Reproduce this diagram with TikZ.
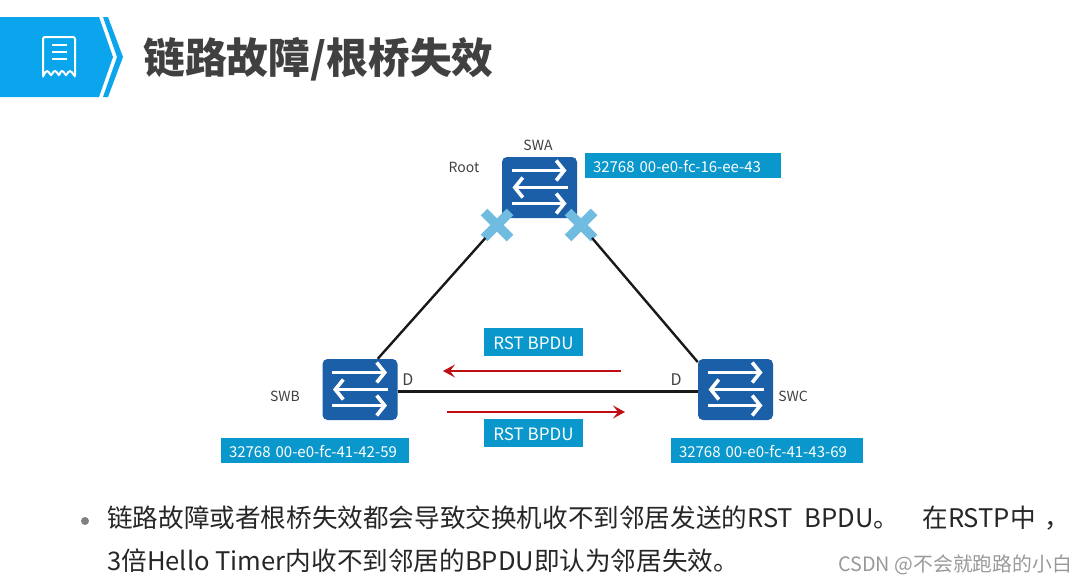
\documentclass[tikz,border=0pt]{standalone}
\usepackage{fontspec}
\setmainfont{Noto Sans CJK SC}
\usetikzlibrary{arrows.meta,shapes.misc}
\definecolor{azulTitulo}{HTML}{0AA5EC}
\definecolor{azulSwitch}{HTML}{1A5FA8}
\definecolor{azulEtiqueta}{HTML}{0A98CC}
\definecolor{azulFalha}{HTML}{70BCE0}
\definecolor{vermelhoSeta}{HTML}{C00D14}
\definecolor{cinzaTexto}{HTML}{404040}
\begin{document}
\begin{tikzpicture}[x=1pt,y=-1pt]
\tikzset{
    >=stealth,
    ligacao/.style={-, line width=2.4pt, black!90},
    setaBpdu/.style={-{Stealth[length=12pt,width=13pt,inset=5pt]}, line width=2.4pt, vermelhoSeta},
    setaSwitch/.style={-{Straight Barb[length=8pt,width=20pt]}, line width=3.6pt, white},
    switchbox/.style={rectangle, rounded corners=5pt, fill=azulSwitch, inner sep=0pt,
                      minimum width=75pt, minimum height=61pt},
    falha/.style={cross out, draw=azulFalha, line width=9.5pt, inner sep=0pt, outer sep=0pt,
                  minimum size=26pt},
    etiqueta/.style={rectangle, fill=azulEtiqueta, text=white, inner xsep=8pt, inner ysep=6pt, align=left,
                     font=\fontsize{15}{15}\selectfont, text height=13pt, text depth=0pt},
    etiquetaBpdu/.style={rectangle, fill=azulEtiqueta, text=white, inner xsep=0pt, inner ysep=6.5pt, minimum width=99pt,
                     font=\fontsize{17}{17}\selectfont, text height=15pt, text depth=0pt},
    rotulo/.style={font=\fontsize{14}{14}\selectfont, text=cinzaTexto, inner sep=0pt},
    corpo/.style={anchor=west, inner sep=0pt, font=\fontsize{25.6}{27}\selectfont, text=black!85}
}
\useasboundingbox (0,0) rectangle (1085,584);

% Faixa do titulo
\fill[azulTitulo] (0,17) -- (99,17) -- (113,57) -- (99,97) -- (0,97) -- cycle;
\fill[azulTitulo] (103,17) -- (108,17) -- (123,57) -- (108,97) -- (103,97) -- (117,57) -- cycle;
\draw[white, line width=2pt, rounded corners=2pt]
    (43,37) -- (75,37) -- (75,77) .. controls (71,70) and (69,70) .. (66,76)
    .. controls (63,70) and (61,70) .. (59,76) .. controls (56,70) and (54,70) .. (51,76)
    .. controls (48,70) and (46,70) .. (43,77) -- cycle;
\foreach \y in {45,52,59}
    \draw[white, line width=2pt] (52,\y) -- (67,\y);
\node[anchor=west, inner sep=0pt, font=\fontsize{41.8}{42}\selectfont\bfseries, text=cinzaTexto] (titulo) at (143,59) {链路故障/根桥失效};

% Switches
\node[switchbox] (swa) at (539.5,187.5) {};
\node[switchbox] (swb) at (360,389.5)   {};
\node[switchbox] (swc) at (735.5,389.5) {};
\foreach \sw in {swa,swb,swc} {
    \draw[setaSwitch] ([shift={(-28,-17)}]\sw.center) -- ([shift={(27,-17)}]\sw.center);
    \draw[setaSwitch] ([shift={(28,0)}]\sw.center) -- ([shift={(-27,0)}]\sw.center);
    \draw[setaSwitch] ([shift={(-28,16)}]\sw.center) -- ([shift={(27,16)}]\sw.center);
}

% Pontos de falha
\node[falha] (xb) at (497,225) {};
\node[falha] (xc) at (581,225) {};

% Ligacoes
\draw[ligacao] (xb) -- (swb.60);
\draw[ligacao] (xc) -- (swc.144);
\draw[ligacao] (swb.-3) -- (swc.183);

% Nomes
\node[rotulo] (lroot) at (464,167) {Root};
\node[rotulo] (lswa)  at (538,145) {SWA};
\node[rotulo] (lswb)  at (285,396) {SWB};
\node[rotulo] (lswc)  at (793,396) {SWC};
\node[rotulo, font=\fontsize{16}{16}\selectfont] (db) at (408,380) {D};
\node[rotulo, font=\fontsize{16}{16}\selectfont] (dc) at (676,380) {D};

% Etiquetas
\node[etiqueta, text width=180pt] (ida) at (683,165.5) {32768 00-e0-fc-16-ee-43};
\node[etiqueta, text width=172pt] (idb) at (315,450.5) {32768 00-e0-fc-41-42-59};
\node[etiqueta, text width=176pt] (idc) at (767,450.5) {32768 00-e0-fc-41-43-69};
\node[etiquetaBpdu] (bpdu1) at (533.5,342)   {RST BPDU};
\node[etiquetaBpdu] (bpdu2) at (533.5,432.5) {RST BPDU};

% Setas de BPDU
\coordinate (s1a) at (621,371);
\coordinate (s1b) at (443,371);
\coordinate (s2a) at (447,412);
\coordinate (s2b) at (625,412);
\draw[setaBpdu] (s1a) -- (s1b);
\draw[setaBpdu] (s2a) -- (s2b);

% Texto
\node[circle, fill=black!50, inner sep=0pt, minimum size=8pt] (bullet) at (85,521) {};
\node[corpo] (linha1) at (107,518) {链路故障或者根桥失效都会导致交换机收不到邻居发送的RST\ \ BPDU。\ \ \ \hspace{6pt}在RSTP中\hspace{9pt}，};
\node[corpo] (linha2) at (107,561) {3倍Hello\ Timer内收不到邻居的BPDU即认为邻居失效。};
\node[anchor=east, inner sep=0pt, font=\fontsize{19.8}{20}\selectfont, text=black!40] (marca) at (1072,565) {CSDN @不会就跑路的小白};
\end{tikzpicture}
\end{document}
